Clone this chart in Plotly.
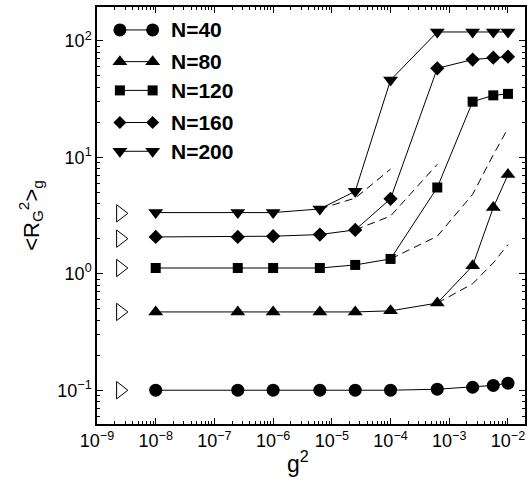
import plotly.graph_objects as go

# coupling values g^2
g2 = [1e-8, 2.5e-7, 1e-6, 6.25e-6, 2.5e-5, 1e-4, 6.25e-4, 2.5e-3, 5.625e-3, 1e-2]

# mean squared radius of gyration per chain length
rg_40 = [0.1, 0.1, 0.1, 0.1, 0.1, 0.1, 0.102, 0.106, 0.11, 0.115]
rg_80 = [0.47, 0.47, 0.47, 0.47, 0.47, 0.48, 0.56, 1.17, 3.7, 7.1]
rg_120 = [1.12, 1.12, 1.12, 1.12, 1.19, 1.34, 5.5, 30, 34, 35]
rg_160 = [2.07, 2.07, 2.1, 2.17, 2.38, 4.4, 58, 69, 71.6, 73]
rg_200 = [3.35, 3.35, 3.35, 3.6, 5.1, 46, 119, 119, 119, 119]

# dashed comparison curves
dash_80_x = [6.25e-4, 2.5e-3, 5.625e-3, 1e-2]
dash_80_y = [0.56, 0.82, 1.24, 1.78]
dash_120_x = [1e-4, 6.25e-4, 2.5e-3, 5.625e-3, 1e-2]
dash_120_y = [1.34, 2.1, 4.8, 10.5, 17.7]
dash_160_x = [2.5e-5, 1e-4, 6.25e-4]
dash_160_y = [2.38, 3.13, 8.7]
dash_200_x = [6.25e-6, 2.5e-5, 1e-4]
dash_200_y = [3.6, 4.46, 7.9]

# g = 0 reference values (open triangles)
ref_x = 2.5e-9
ref_y = [0.1, 0.47, 1.12, 2.0, 3.3]

labels = ["N=40", "N=80", "N=120", "N=160", "N=200"]
symbols = ["circle", "triangle-up", "square", "diamond", "triangle-down"]
sizes = [13, 13, 10, 11, 13]
series = [rg_40, rg_80, rg_120, rg_160, rg_200]

# axis decades
x_exps = list(range(-9, -1))
y_exps = list(range(-1, 3))

def decade_ticks(exps):
    vals = [10.0 ** e for e in exps]
    text = ["10<sup>%s</sup>" % ("\u2212%d" % -e if e < 0 else "%d" % e) for e in exps]
    minor = [m * 10.0 ** e for e in range(exps[0] - 1, exps[-1] + 1) for m in range(2, 10)]
    return vals, text, minor

fig = go.Figure()

for xs, ys in [(dash_80_x, dash_80_y), (dash_120_x, dash_120_y),
               (dash_160_x, dash_160_y), (dash_200_x, dash_200_y)]:
    fig.add_trace(go.Scatter(x=xs, y=ys, mode="lines",
                             line=dict(color="black", width=1, dash="8px,5px"),
                             showlegend=False, hoverinfo="skip"))

for ys, sym, sz in zip(series, symbols, sizes):
    fig.add_trace(go.Scatter(x=g2, y=ys, mode="lines+markers",
                             line=dict(color="black", width=1),
                             marker=dict(symbol=sym, size=sz, color="black"),
                             showlegend=False))

fig.add_trace(go.Scatter(x=[ref_x] * len(ref_y), y=ref_y, mode="markers",
                         marker=dict(symbol="triangle-right-open", size=15,
                                     color="black", line=dict(width=1)),
                         showlegend=False))

# legend drawn inside the plot area on an overlay axis in [0, 1] units
leg_x = [0.0535, 0.130]
leg_y = [0.945, 0.869, 0.800, 0.723, 0.654]
leg_sizes = [13, 13, 10, 10, 13]
for lab, sym, sz, yy in zip(labels, symbols, leg_sizes, leg_y):
    fig.add_trace(go.Scatter(x=leg_x, y=[yy, yy], mode="lines+markers",
                             xaxis="x2", yaxis="y2",
                             line=dict(color="black", width=1),
                             marker=dict(symbol=sym, size=sz, color="black"),
                             showlegend=False, hoverinfo="skip"))
    fig.add_annotation(x=0.168, y=yy, xref="paper", yref="paper", text="<b>%s</b>" % lab,
                       showarrow=False, xanchor="left", yanchor="middle",
                       font=dict(size=21, color="black", family="Liberation Sans, Arial"))

# x axis title placed below the tick labels, anchored to the bottom edge
fig.add_annotation(x=0.47, y=0, xref="paper", yref="paper", text="g<sup>2</sup>",
                   showarrow=False, xanchor="center", yanchor="bottom", yshift=-55,
                   font=dict(size=23, color="black", family="Liberation Sans, Arial"))

axis_common = dict(
    type="log", showgrid=False, zeroline=False,
    showline=True, linecolor="black", linewidth=1.5, mirror="allticks",
    ticks="inside", ticklen=6, tickwidth=1, tickcolor="black",
    tickmode="array",
    tickfont=dict(size=18, color="black", family="Liberation Sans, Arial"),
)

xv, xt, xm = decade_ticks(x_exps)
yv, yt, ym = decade_ticks(y_exps)

fig.update_layout(
    width=532, height=480,
    margin=dict(l=97, r=5, t=5, b=56),
    plot_bgcolor="white", paper_bgcolor="white",
    font=dict(family="Liberation Sans, Arial", color="black"),
    xaxis=dict(axis_common, range=[-9, -1.71], tickvals=xv, ticktext=xt,
               minor=dict(tickmode="array", tickvals=xm, ticks="inside", ticklen=3,
                          tickwidth=1, tickcolor="black", showgrid=False)),
    yaxis=dict(axis_common, range=[-1.29, 2.29], tickvals=yv, ticktext=yt,
               minor=dict(tickmode="array", tickvals=ym, ticks="inside", ticklen=3,
                          tickwidth=1, tickcolor="black", showgrid=False),
               title=dict(text="<R<sub>G</sub><sup>2</sup>><sub>g</sub>", font=dict(size=22), standoff=12)),
    xaxis2=dict(overlaying="x", range=[0, 1], visible=False, fixedrange=True),
    yaxis2=dict(overlaying="y", range=[0, 1], visible=False, fixedrange=True),
)

fig.write_html("out.html")
